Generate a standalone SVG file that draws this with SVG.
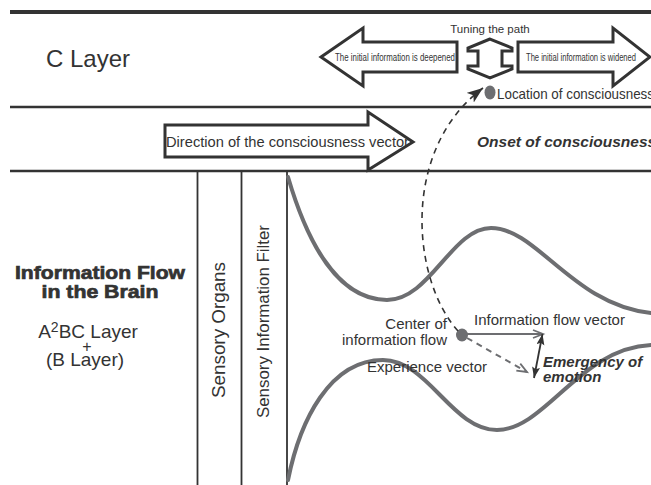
<svg xmlns="http://www.w3.org/2000/svg" width="651" height="485" viewBox="0 0 651 485">
<defs>
<style>
text{font-family:"Liberation Sans",Arial,sans-serif;fill:#333}
.rule{stroke:#333;fill:none}
.big{fill:#fff;stroke:#333;stroke-width:3;stroke-linejoin:miter}
.wave{fill:none;stroke:#6d6e71;stroke-width:4;stroke-linecap:round}
.bi{font-weight:bold;font-style:italic}
.heavy{font-weight:bold;stroke:#333;stroke-width:0.7;text-anchor:middle}
</style>
<marker id="mDark" markerUnits="userSpaceOnUse" markerWidth="18" markerHeight="14" refX="16" refY="6" orient="auto">
<path d="M0,0 L16,6 L0,12 L4,6 z" fill="#333"/>
</marker>
<marker id="mChev" markerUnits="userSpaceOnUse" markerWidth="14" markerHeight="12" refX="11" refY="5" orient="auto">
<path d="M1,1 L11,5 L1,9" fill="none" stroke="#6d6e71" stroke-width="1.8"/>
</marker>
<marker id="mBi" markerUnits="userSpaceOnUse" markerWidth="14" markerHeight="10" refX="11" refY="4" orient="auto-start-reverse">
<path d="M0,0 L11,4 L0,8 L2,4 z" fill="#333"/>
</marker>
</defs>

<g id="frame">
<line class="rule" x1="10" y1="12" x2="651" y2="12" stroke-width="4"/>
<line class="rule" x1="10" y1="107" x2="651" y2="107" stroke-width="2.5"/>
<line class="rule" x1="10" y1="171" x2="651" y2="171" stroke-width="2.5"/>
<line class="rule" x1="197.5" y1="171" x2="197.5" y2="485" stroke-width="1.8"/>
<line class="rule" x1="241.5" y1="171" x2="241.5" y2="485" stroke-width="1.8"/>
<line class="rule" x1="287" y1="171" x2="287" y2="485" stroke-width="1.8"/>
</g>

<g id="c-layer">
<text x="46" y="67" font-size="24">C Layer</text>
</g>

<g id="tuning">
<text x="490" y="33" font-size="11.5" text-anchor="middle">Tuning the path</text>
<polygon class="big" points="490,39 468,48 468,51 478,51 478,66 468,66 468,69 490,78 512,69 512,66 502,66 502,51 512,51 512,48"/>
</g>

<g id="deepened">
<polygon class="big" points="321,57 363,28 363,42 457,42 457,72 363,72 363,86"/>
<text x="335" y="60.5" font-size="10.5" textLength="120" lengthAdjust="spacingAndGlyphs">The initial information is deepened</text>
</g>

<g id="widened">
<polygon class="big" points="518,42 613,42 613,28 650,57 613,86 613,72 518,72"/>
<text x="526" y="60.5" font-size="10.5" textLength="110" lengthAdjust="spacingAndGlyphs">The initial information is widened</text>
</g>

<g id="location">
<ellipse cx="490" cy="92.5" rx="5.5" ry="7" fill="#6d6e71"/>
<text x="497" y="99" font-size="15" textLength="157" lengthAdjust="spacingAndGlyphs">Location of consciousness</text>
</g>

<g id="direction">
<polygon class="big" points="165,125 368,125 368,112 413,142 368,170 368,157 165,157"/>
<text x="166" y="147" font-size="15.5" textLength="243" lengthAdjust="spacingAndGlyphs">Direction of the consciousness vector</text>
</g>

<g id="onset">
<text class="bi" x="477" y="147" font-size="15.5">Onset of consciousness</text>
</g>

<g id="brain-label">
<text class="heavy" x="100" y="279" font-size="19" textLength="170" lengthAdjust="spacingAndGlyphs">Information Flow</text>
<text class="heavy" x="100" y="298" font-size="19" textLength="117" lengthAdjust="spacingAndGlyphs">in the Brain</text>
<text x="88" y="338" font-size="19" text-anchor="middle">A<tspan font-size="14" dy="-6">2</tspan><tspan dy="6">BC Layer</tspan></text>
<text x="87" y="352" font-size="16" text-anchor="middle">+</text>
<text x="85" y="366" font-size="19" text-anchor="middle">(B Layer)</text>
</g>

<g id="sensory-organs">
<text transform="translate(224.5,330) rotate(-90)" font-size="18" text-anchor="middle" textLength="136" lengthAdjust="spacingAndGlyphs">Sensory Organs</text>
</g>

<g id="sensory-filter">
<text transform="translate(269,321.5) rotate(-90)" font-size="17" text-anchor="middle" textLength="193" lengthAdjust="spacingAndGlyphs">Sensory Information Filter</text>
</g>

<g id="flow-channel">
<path class="wave" d="M288,177 C305,235 335,300 387,300 C430,300 452,228 491,228 C537,228 573,305 651,313"/>
<path class="wave" d="M288,480 C300,420 330,360 383,360 C428,360 452,430 497,430 C545,430 580,348 651,345"/>
</g>

<g id="center-flow">
<ellipse cx="462" cy="335" rx="6" ry="6.5" fill="#6d6e71"/>
<text x="447" y="328.5" font-size="15" text-anchor="end">Center of</text>
<text x="447" y="345" font-size="15" text-anchor="end">information flow</text>
</g>

<g id="labels">
<text x="474" y="325" font-size="15">Information flow vector</text>
<text x="367" y="372" font-size="15">Experience vector</text>
<text class="bi" x="543" y="367" font-size="15">Emergency of</text>
<text class="bi" x="543" y="382" font-size="15">emotion</text>
</g>

<g id="connectors">
<path d="M458,331 C412,280 400,150 483,88" fill="none" stroke="#333" stroke-width="1.6" stroke-dasharray="6,5" marker-end="url(#mDark)"/>
<line x1="467" y1="334" x2="543" y2="334" stroke="#6d6e71" stroke-width="2" marker-end="url(#mChev)"/>
<line x1="467" y1="338" x2="527" y2="372" stroke="#6d6e71" stroke-width="2" stroke-dasharray="6,5" marker-end="url(#mChev)"/>
<line x1="542.5" y1="334" x2="534" y2="378" stroke="#333" stroke-width="1.8" marker-start="url(#mBi)" marker-end="url(#mBi)"/>
</g>
</svg>
